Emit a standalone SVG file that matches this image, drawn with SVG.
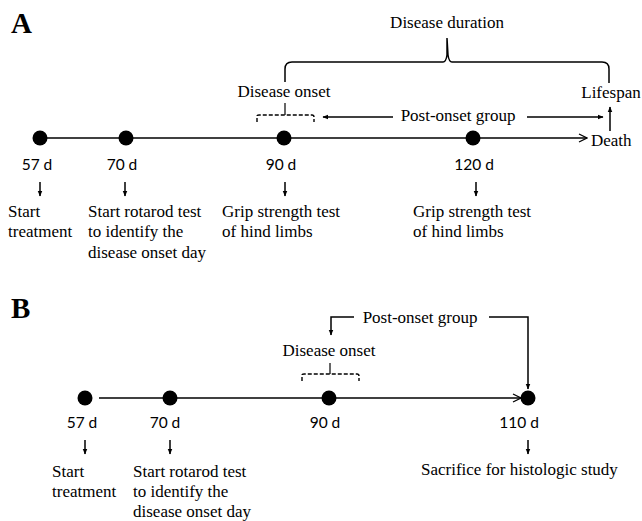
<svg xmlns="http://www.w3.org/2000/svg" width="642" height="521" viewBox="0 0 642 521">
<defs>
<marker id="ah" viewBox="0 0 10 10" refX="9" refY="5" markerWidth="6" markerHeight="6" orient="auto" markerUnits="userSpaceOnUse"><path d="M0,1 L10,5 L0,9 z" fill="#000"/></marker>
<marker id="chev" viewBox="0 0 10 10" refX="9" refY="5" markerWidth="10" markerHeight="10" orient="auto" markerUnits="userSpaceOnUse"><path d="M1,1 L9,5 L1,9" fill="none" stroke="#000" stroke-width="1.3"/></marker>
</defs>
<style>
.ln{stroke:#000;stroke-width:1.5;fill:none}
.ds{stroke:#000;stroke-width:1.4;fill:none;stroke-dasharray:4,2}
.dot{fill:#000}
.ser{font-family:"Liberation Serif","Times New Roman",serif;fill:#000}
.t16{font-size:17px}
.t17{font-size:17px}
.day{font-family:Lato,"Noto Sans",sans-serif;font-size:15.5px;fill:#000}
.big{font-family:"Liberation Serif",serif;font-size:29px;font-weight:bold;fill:#000}
</style>
<rect width="642" height="521" fill="#fff"/>
<text class="big" x="11" y="33">A</text>
<text class="big" x="11" y="318">B</text>

<g id="connectors">
<line class="ln" x1="40" y1="138" x2="587" y2="138" marker-end="url(#chev)"/>
<line class="ln" x1="610" y1="131" x2="610" y2="107" marker-end="url(#ah)"/>
<path class="ln" d="M285,82 L285,69 Q285,62 292,62 L443,62 Q446,62 447,55 L447,38 M447,38 L448,55 Q449,62 452,62 L602,62 Q609,62 609,69 L609,83"/>
<path class="ds" d="M257,122 L257,116 Q257,115 259,115 L312,115 Q314,115 314,117 L314,122"/>
<line class="ln" x1="285" y1="103" x2="285" y2="115" style="stroke-width:1.2"/>
<line class="ln" x1="393" y1="117" x2="323" y2="117" marker-end="url(#ah)"/>
<line class="ln" x1="527" y1="117" x2="603" y2="117" marker-end="url(#ah)"/>
<line class="ln" x1="40" y1="182" x2="40" y2="196" marker-end="url(#ah)"/>
<line class="ln" x1="125" y1="182" x2="125" y2="196" marker-end="url(#ah)"/>
<line class="ln" x1="285" y1="182" x2="285" y2="196" marker-end="url(#ah)"/>
<line class="ln" x1="476" y1="182" x2="476" y2="196" marker-end="url(#ah)"/>

<line class="ln" x1="99" y1="398" x2="521" y2="398" marker-end="url(#chev)"/>
<path class="ds" d="M302,381 L302,375 Q302,374 304,374 L357,374 Q359,374 359,376 L359,381"/>
<line class="ln" x1="330" y1="363" x2="330" y2="374" style="stroke-width:1.2"/>
<path class="ln" d="M354,317 L331,317 L331,335" marker-end="url(#ah)"/>
<path class="ln" d="M489,317 L528,317 L528,389" marker-end="url(#ah)"/>
<line class="ln" x1="85" y1="440" x2="85" y2="454" marker-end="url(#ah)"/>
<line class="ln" x1="170" y1="440" x2="170" y2="454" marker-end="url(#ah)"/>
<line class="ln" x1="528" y1="440" x2="528" y2="454" marker-end="url(#ah)"/>
</g>

<g id="labelsA">
<text class="ser t17" x="447" y="28" text-anchor="middle">Disease duration</text>
<text class="ser t17" x="284" y="97" text-anchor="middle">Disease onset</text>
<text class="ser t17" x="611" y="98" text-anchor="middle">Lifespan</text>
<text class="ser t17" x="458" y="121" text-anchor="middle">Post-onset group</text>
<text class="ser t17" x="591" y="146">Death</text>
</g>

<g id="nodeA57"><circle class="dot" cx="40" cy="138" r="7.5"/><text class="day" x="37" y="170" text-anchor="middle">57 d</text><text class="ser t16" x="8" y="217">Start</text><text class="ser t16" x="8" y="237">treatment</text></g>
<g id="nodeA70"><circle class="dot" cx="126" cy="138" r="7.5"/><text class="day" x="122" y="170" text-anchor="middle">70 d</text><text class="ser t16" x="88" y="217">Start rotarod test</text><text class="ser t16" x="88" y="237">to identify the</text><text class="ser t16" x="88" y="258">disease onset day</text></g>
<g id="nodeA90"><circle class="dot" cx="284" cy="138" r="7.5"/><text class="day" x="281" y="170" text-anchor="middle">90 d</text><text class="ser t16" x="222" y="217">Grip strength test</text><text class="ser t16" x="222" y="237">of hind limbs</text></g>
<g id="nodeA120"><circle class="dot" cx="473" cy="138" r="7.5"/><text class="day" x="474" y="170" text-anchor="middle">120 d</text><text class="ser t16" x="413" y="217">Grip strength test</text><text class="ser t16" x="413" y="237">of hind limbs</text></g>

<g id="labelsB">
<text class="ser t17" x="329" y="356" text-anchor="middle">Disease onset</text>
<text class="ser t17" x="420" y="323" text-anchor="middle">Post-onset group</text>
</g>
<g id="nodeB57"><circle class="dot" cx="85" cy="398" r="7.5"/><text class="day" x="82" y="428" text-anchor="middle">57 d</text><text class="ser t16" x="52" y="477">Start</text><text class="ser t16" x="52" y="497">treatment</text></g>
<g id="nodeB70"><circle class="dot" cx="170" cy="398" r="7.5"/><text class="day" x="165" y="428" text-anchor="middle">70 d</text><text class="ser t16" x="133" y="477">Start rotarod test</text><text class="ser t16" x="133" y="497">to identify the</text><text class="ser t16" x="133" y="517">disease onset day</text></g>
<g id="nodeB90"><circle class="dot" cx="329" cy="398" r="7.5"/><text class="day" x="325" y="428" text-anchor="middle">90 d</text></g>
<g id="nodeB110"><circle class="dot" cx="528" cy="398" r="7.5"/><text class="day" x="519" y="428" text-anchor="middle">110 d</text><text class="ser t16" x="421" y="475">Sacrifice for histologic study</text></g>
</svg>
